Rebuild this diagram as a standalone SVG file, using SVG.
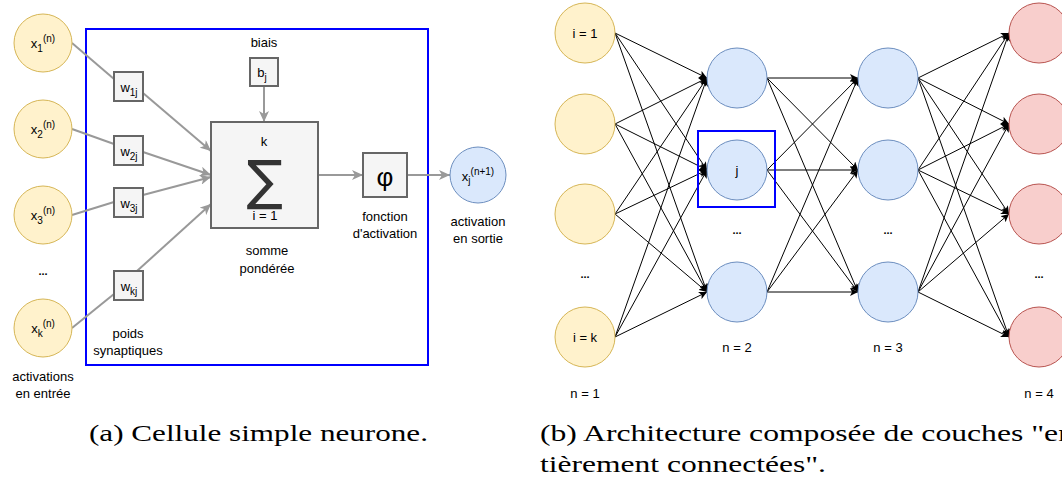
<svg xmlns="http://www.w3.org/2000/svg" width="1062" height="485" viewBox="0 0 1062 485">
<style>
text{font-family:"Liberation Sans",Arial,sans-serif;font-size:13px;fill:#000;text-anchor:middle}
.in{fill:#fff2cc;stroke:#d6b656;stroke-width:1}
.hid{fill:#dae8fc;stroke:#6c8ebf;stroke-width:1}
.out{fill:#f8cecc;stroke:#b85450;stroke-width:1}
.box{fill:#f5f5f5;stroke:#666666;stroke-width:2}
.g{stroke:#999999;stroke-width:2;fill:none}
.ga{stroke:#999999;stroke-width:2;fill:none;marker-end:url(#ag)}
.k{stroke:#000;stroke-width:1;fill:none;marker-end:url(#ak)}
.sm{font-size:10px}
.dots{font-weight:bold;font-size:11px}
.cap{font-family:"Liberation Serif","Times New Roman",serif;font-size:23px;text-anchor:start}
</style>
<defs>
<marker id="ag" markerUnits="userSpaceOnUse" markerWidth="12" markerHeight="10" refX="11" refY="5" orient="auto"><path d="M0,0 L11,5 L0,10 L3,5 z" fill="#999999"/></marker>
<marker id="ak" markerUnits="userSpaceOnUse" markerWidth="9" markerHeight="8" refX="8" refY="4" orient="auto"><path d="M0,0 L8,4 L0,8 L2,4 z" fill="#000"/></marker>
</defs>

<!-- Left: single neuron -->
<rect id="frame" x="86" y="29" width="342" height="336" fill="none" stroke="#0000ff" stroke-width="2"/>

<g id="connectors-a">
<line class="g" x1="72" y1="43" x2="114" y2="79"/>
<line class="ga" x1="143" y1="93" x2="211" y2="151"/>
<line class="g" x1="72" y1="129" x2="114" y2="144"/>
<line class="ga" x1="143" y1="152" x2="211" y2="175"/>
<line class="g" x1="72" y1="215" x2="114" y2="202"/>
<line class="ga" x1="143" y1="195" x2="211" y2="177"/>
<line class="g" x1="72" y1="328" x2="114" y2="294"/>
<line class="ga" x1="137" y1="271" x2="211" y2="204"/>
<line class="ga" x1="264" y1="86" x2="264" y2="122"/>
<line class="ga" x1="318" y1="175" x2="363" y2="175"/>
<line class="ga" x1="407" y1="175" x2="450" y2="175"/>
</g>

<g id="x1"><circle class="in" cx="43" cy="43" r="29"/><text x="43" y="48">x<tspan class="sm" dy="4">1</tspan><tspan class="sm" dy="-10">(n)</tspan></text></g>
<g id="x2"><circle class="in" cx="43" cy="129" r="29"/><text x="43" y="134">x<tspan class="sm" dy="4">2</tspan><tspan class="sm" dy="-10">(n)</tspan></text></g>
<g id="x3"><circle class="in" cx="43" cy="215" r="29"/><text x="43" y="220">x<tspan class="sm" dy="4">3</tspan><tspan class="sm" dy="-10">(n)</tspan></text></g>
<g id="xdots"><text class="dots" x="43" y="275">...</text></g>
<g id="xk"><circle class="in" cx="43" cy="328" r="29"/><text x="43" y="333">x<tspan class="sm" dy="4">k</tspan><tspan class="sm" dy="-10">(n)</tspan></text></g>
<g id="lbl-in"><text x="43" y="381">activations</text><text x="43" y="398">en entrée</text></g>

<g id="w1j"><rect class="box" x="114" y="72" width="29" height="29"/><text x="129" y="92">w<tspan class="sm" dy="4">1j</tspan></text></g>
<g id="w2j"><rect class="box" x="114" y="136" width="29" height="29"/><text x="129" y="156">w<tspan class="sm" dy="4">2j</tspan></text></g>
<g id="w3j"><rect class="box" x="114" y="188" width="29" height="29"/><text x="129" y="208">w<tspan class="sm" dy="4">3j</tspan></text></g>
<g id="wkj"><rect class="box" x="114" y="271" width="29" height="29"/><text x="129" y="291">w<tspan class="sm" dy="4">kj</tspan></text></g>
<g id="lbl-poids"><text x="128" y="338">poids</text><text x="128" y="355">synaptiques</text></g>

<g id="bias"><text x="264" y="47">biais</text><rect class="box" x="250" y="58" width="28" height="28"/><text x="262" y="77">b<tspan class="sm" dy="4">j</tspan></text></g>

<g id="sum"><rect class="box" x="211" y="122" width="107" height="106"/>
<text x="264" y="146">k</text>
<text x="265" y="220">i = 1</text>
<text x="265" y="199" style="font-family:'DejaVu Sans',sans-serif;font-size:54px;fill:#333">∑</text>
</g>
<g id="lbl-sum"><text x="267" y="255">somme</text><text x="267" y="273">pondérée</text></g>

<g id="phi"><rect class="box" x="363" y="153" width="44" height="44"/><text x="385" y="186" style="font-size:26px">φ</text></g>
<g id="lbl-phi"><text x="385" y="221">fonction</text><text x="385" y="238">d'activation</text></g>

<g id="xout"><circle class="hid" cx="478" cy="175" r="28"/><text x="478" y="181">x<tspan class="sm" dy="3">j</tspan><tspan class="sm" dy="-9">(n+1)</tspan></text></g>
<g id="lbl-out"><text x="478" y="226">activation</text><text x="478" y="243">en sortie</text></g>

<!-- Right: network -->
<g id="connectors-b">
<line class="k" x1="615" y1="33" x2="707" y2="78"/><line class="k" x1="615" y1="33" x2="707" y2="170"/><line class="k" x1="615" y1="33" x2="707" y2="292"/>
<line class="k" x1="615" y1="124" x2="707" y2="78"/><line class="k" x1="615" y1="124" x2="707" y2="170"/><line class="k" x1="615" y1="124" x2="707" y2="292"/>
<line class="k" x1="615" y1="214" x2="707" y2="78"/><line class="k" x1="615" y1="214" x2="707" y2="170"/><line class="k" x1="615" y1="214" x2="707" y2="292"/>
<line class="k" x1="615" y1="337" x2="707" y2="78"/><line class="k" x1="615" y1="337" x2="707" y2="170"/><line class="k" x1="615" y1="337" x2="707" y2="292"/>
<line class="k" x1="767" y1="78" x2="858" y2="78"/><line class="k" x1="767" y1="78" x2="858" y2="170"/><line class="k" x1="767" y1="78" x2="858" y2="292"/>
<line class="k" x1="767" y1="170" x2="858" y2="78"/><line class="k" x1="767" y1="170" x2="858" y2="170"/><line class="k" x1="767" y1="170" x2="858" y2="292"/>
<line class="k" x1="767" y1="292" x2="858" y2="78"/><line class="k" x1="767" y1="292" x2="858" y2="170"/><line class="k" x1="767" y1="292" x2="858" y2="292"/>
<line class="k" x1="918" y1="78" x2="1009" y2="33"/><line class="k" x1="918" y1="78" x2="1009" y2="124"/><line class="k" x1="918" y1="78" x2="1009" y2="214"/><line class="k" x1="918" y1="78" x2="1009" y2="337"/>
<line class="k" x1="918" y1="170" x2="1009" y2="33"/><line class="k" x1="918" y1="170" x2="1009" y2="124"/><line class="k" x1="918" y1="170" x2="1009" y2="214"/><line class="k" x1="918" y1="170" x2="1009" y2="337"/>
<line class="k" x1="918" y1="292" x2="1009" y2="33"/><line class="k" x1="918" y1="292" x2="1009" y2="124"/><line class="k" x1="918" y1="292" x2="1009" y2="214"/><line class="k" x1="918" y1="292" x2="1009" y2="337"/>
</g>

<g id="l1n1"><circle class="in" cx="585" cy="33" r="30"/><text x="585" y="38">i = 1</text></g>
<g id="l1n2"><circle class="in" cx="585" cy="124" r="30"/></g>
<g id="l1n3"><circle class="in" cx="585" cy="214" r="30"/></g>
<g id="l1dots"><text class="dots" x="585" y="278">...</text></g>
<g id="l1nk"><circle class="in" cx="585" cy="337" r="30"/><text x="585" y="342">i = k</text></g>
<g id="l1lbl"><text x="585" y="398">n = 1</text></g>

<g id="l2n1"><circle class="hid" cx="737" cy="78" r="30"/></g>
<g id="l2nj"><circle class="hid" cx="737" cy="170" r="30"/><text x="737" y="175">j</text><rect x="698" y="131" width="77" height="76" fill="none" stroke="#0000ff" stroke-width="2"/></g>
<g id="l2dots"><text class="dots" x="737" y="234">...</text></g>
<g id="l2n3"><circle class="hid" cx="737" cy="292" r="30"/></g>
<g id="l2lbl"><text x="737" y="352">n = 2</text></g>

<g id="l3n1"><circle class="hid" cx="888" cy="78" r="30"/></g>
<g id="l3n2"><circle class="hid" cx="888" cy="170" r="30"/></g>
<g id="l3dots"><text class="dots" x="888" y="234">...</text></g>
<g id="l3n3"><circle class="hid" cx="888" cy="292" r="30"/></g>
<g id="l3lbl"><text x="888" y="352">n = 3</text></g>

<g id="l4n1"><circle class="out" cx="1039" cy="33" r="30"/></g>
<g id="l4n2"><circle class="out" cx="1039" cy="124" r="30"/></g>
<g id="l4n3"><circle class="out" cx="1039" cy="214" r="30"/></g>
<g id="l4dots"><text class="dots" x="1039" y="278">...</text></g>
<g id="l4n4"><circle class="out" cx="1039" cy="337" r="30"/></g>
<g id="l4lbl"><text x="1039" y="398">n = 4</text></g>

<g id="captions">
<text class="cap" x="89" y="441" textLength="339" lengthAdjust="spacingAndGlyphs">(a) Cellule simple neurone.</text>
<text class="cap" x="540" y="441" textLength="534" lengthAdjust="spacingAndGlyphs">(b) Architecture composée de couches "en</text>
<text class="cap" x="540" y="472" textLength="286" lengthAdjust="spacingAndGlyphs">tièrement connectées".</text>
</g>
</svg>
